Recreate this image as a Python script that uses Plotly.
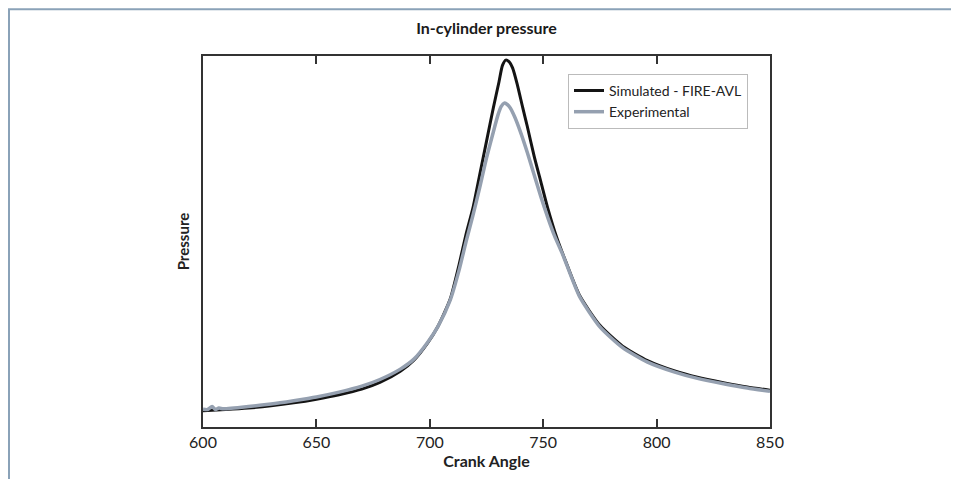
import plotly.graph_objects as go

# Crank angle [deg] and pressure (relative units)
sim_angle = [600, 610, 620, 630, 640, 650, 660, 670, 678, 687, 693, 699, 703.5, 709, 713, 716,
             719, 722, 725, 728, 730.5, 732, 733.5, 735, 736.5, 738.5, 741, 743, 746, 749, 752, 756, 760,
             766, 775, 785, 796, 808, 818, 830, 840, 850]
sim_pressure = [4.4, 4.7, 5.1, 5.7, 6.5, 7.5, 8.7, 10.2, 12.0, 15.0, 18.0, 22.6, 27.0, 34.5, 44.0, 52.0,
                59.0, 68.0, 77.0, 86.0, 93.0, 97.4, 98.9, 98.4, 96.8, 92.5, 86.0, 81.0, 73.0, 66.0, 59.0, 51.0, 44.5,
                35.5, 27.4, 21.8, 17.9, 15.1, 13.4, 11.9, 10.8, 9.9]

exp_angle = [600, 602, 604, 605.5, 607, 609, 620, 630, 640, 650, 660, 670, 678, 687, 693, 699, 703.5,
             709, 713, 716, 719, 722, 725, 728, 730, 731.5, 732.8, 734, 735.5, 737.5, 740, 743, 746, 749, 752,
             755, 758.6, 766, 775, 785, 796, 808, 818, 830, 840, 850]
exp_pressure = [4.8, 4.7, 5.5, 4.7, 5.1, 4.9, 5.5, 6.2, 7.1, 8.1, 9.4, 11.0, 12.8, 15.6, 18.3, 22.8, 27.0,
                34.2, 42.5, 50.0, 57.0, 64.5, 72.5, 79.5, 84.0, 86.4, 87.3, 87.0, 86.0, 83.5, 79.5, 74.0, 68.0, 62.0, 56.5,
                51.5, 46.5, 35.2, 27.0, 21.4, 17.5, 14.8, 13.1, 11.6, 10.5, 9.6]

x_ticks = [600, 650, 700, 750, 800, 850]

font_family = "Lato, Open Sans, sans-serif"

fig = go.Figure()

fig.add_trace(go.Scatter(
    name="Simulated - FIRE-AVL",
    x=sim_angle, y=sim_pressure,
    mode="lines",
    line=dict(color="#141414", width=3, shape="spline", smoothing=0.6),
))
fig.add_trace(go.Scatter(
    name="Experimental",
    x=exp_angle, y=exp_pressure,
    mode="lines",
    line=dict(color="#95a0b0", width=3.5, shape="spline", smoothing=0.6),
))

# Page has an 8px body margin, so the figure sits 8px in from the top-left.
# Target plot area on the page: x 203..770 px, y 56..429 px
fig.update_xaxes(
    range=[600, 850], tickvals=x_ticks, ticks="inside", ticklen=8, tickwidth=2,
    tickcolor="#333333", showline=True, linewidth=2, linecolor="#333333", mirror="ticks",
    showgrid=False, zeroline=False,
    tickfont=dict(size=16, color="#222222", family=font_family),
    title=dict(text="<b>Crank Angle</b>", standoff=5,
               font=dict(size=16, color="#222222", family=font_family)),
)
fig.update_yaxes(
    range=[0, 100], showticklabels=False, ticks="",
    showline=True, linewidth=2, linecolor="#333333", mirror=True,
    showgrid=False, zeroline=False,
    title=dict(text="<b>Pressure</b>", standoff=8,
               font=dict(size=15, color="#222222", family=font_family)),
)

# Light blue frame round the figure (bottom edge runs off the page)
fig.add_shape(type="rect", xref="paper", yref="paper",
              x0=(9 - 203) / 567, x1=(954 - 203) / 567,
              y0=(429 - 490) / 373, y1=(429 - 9) / 373,
              line=dict(color="#8aa2b8", width=2), fillcolor="rgba(0,0,0,0)", layer="below")

fig.update_layout(
    width=951, height=471,
    margin=dict(l=195, r=189, t=48, b=50),
    paper_bgcolor="white", plot_bgcolor="white",
    font=dict(family=font_family, color="#222222"),
    title=dict(text="<b>In-cylinder pressure</b>", x=0.5, xref="paper", xanchor="center",
               y=1 - 20 / 471, yref="container", yanchor="middle",
               font=dict(size=16, color="#1a1a1a", family=font_family)),
    legend=dict(x=(568 - 203) / 567, y=(429 - 74) / 373, xanchor="left", yanchor="top",
                bgcolor="white", bordercolor="#bbbbbb", borderwidth=1,
                font=dict(size=14, color="#222222", family=font_family),
                tracegroupgap=0),
)

fig.write_html("out.html")
